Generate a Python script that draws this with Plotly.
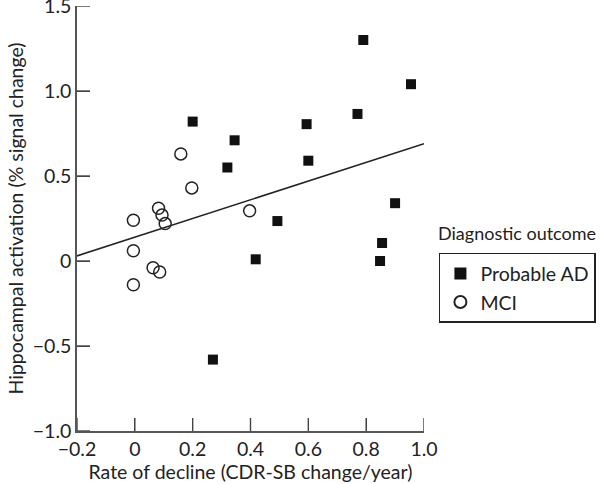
import plotly.graph_objects as go

# Probable AD (filled squares)
ad_x = [0.20, 0.345, 0.32, 0.493, 0.418, 0.27, 0.79, 0.955, 0.77, 0.594, 0.60, 0.90, 0.855, 0.848]
ad_y = [0.82, 0.71, 0.55, 0.235, 0.01, -0.58, 1.30, 1.04, 0.865, 0.805, 0.59, 0.34, 0.106, 0.00]

# MCI (open circles)
mci_x = [0.159, 0.197, 0.397, -0.005, 0.082, 0.094, 0.105, -0.005, 0.063, 0.086, -0.005]
mci_y = [0.63, 0.43, 0.295, 0.24, 0.31, 0.27, 0.22, 0.06, -0.04, -0.065, -0.14]

# Regression line end points
fit_x = [-0.2, 1.0]
fit_y = [0.03, 0.69]

x_ticks = [-0.2, 0, 0.2, 0.4, 0.6, 0.8, 1.0]
x_labels = ["\u22120.2", "0", "0.2", "0.4", "0.6", "0.8", "1.0"]
y_ticks = [-1.0, -0.5, 0, 0.5, 1.0, 1.5]
y_labels = ["\u22121.0", "\u22120.5", "0", "0.5", "1.0", "1.5"]

FONT = "Lato"
TXT = "#222222"
FS = 19.5
TICKLEN = 13
TICKCOL = "#444444"

fig = go.Figure()
fig.add_trace(go.Scatter(x=fit_x, y=fit_y, mode="lines",
                         line=dict(color="#222222", width=1.6),
                         showlegend=False, hoverinfo="skip"))
fig.add_trace(go.Scatter(x=ad_x, y=ad_y, mode="markers", name="Probable AD",
                         marker=dict(symbol="square", size=10, color="#111111",
                                     line=dict(width=0))))
fig.add_trace(go.Scatter(x=mci_x, y=mci_y, mode="markers", name="MCI",
                         marker=dict(symbol="circle-open", size=12, color="#222222",
                                     line=dict(width=1.5))))

axis_common = dict(showgrid=False, zeroline=False, showline=True,
                   linecolor="#555555", linewidth=1.5, automargin=False,
                   ticks="inside", ticklen=TICKLEN, tickwidth=1.4, tickcolor=TICKCOL,
                   tickfont=dict(family=FONT, size=FS, color=TXT))

fig.update_xaxes(range=[-0.2, 1.0], tickmode="array", tickvals=x_ticks, ticktext=x_labels,
                 title=dict(text="Rate of decline (CDR-SB change/year)",
                            font=dict(family=FONT, size=FS, color=TXT), standoff=2),
                 **axis_common)
fig.update_yaxes(range=[-1.0, 1.5], tickmode="array", tickvals=y_ticks, ticktext=y_labels,
                 ticklabeloverflow="allow",
                 title=dict(text="Hippocampal activation (% signal change)",
                            font=dict(family=FONT, size=FS, color=TXT), standoff=4),
                 **axis_common)

# inward tick marks drawn from the tick arrays (pixel-length, anchored on the axes)
for v in x_ticks:
    fig.add_shape(type="line", xref="x", yref="paper", ysizemode="pixel", yanchor=0,
                  x0=v, x1=v, y0=0, y1=TICKLEN, line=dict(color=TICKCOL, width=1.4))
for v in y_ticks:
    fig.add_shape(type="line", xref="paper", yref="y", xsizemode="pixel", xanchor=0,
                  x0=0, x1=TICKLEN, y0=v, y1=v, line=dict(color=TICKCOL, width=1.4))

fig.add_annotation(x=1.034, y=0.466, xref="paper", yref="paper",
                   text="Diagnostic outcome", showarrow=False,
                   xanchor="left", yanchor="middle",
                   font=dict(family=FONT, size=18, color=TXT))

fig.update_layout(
    template="none",
    width=601, height=484,
    margin=dict(l=77, r=176, t=6, b=53),
    plot_bgcolor="white", paper_bgcolor="white",
    font=dict(family=FONT, size=FS, color=TXT),
    legend=dict(x=1.04, y=0.419, xanchor="left", yanchor="top",
                bordercolor="#222222", borderwidth=1.5,
                font=dict(family=FONT, size=FS, color=TXT),
                itemsizing="constant", tracegroupgap=0),
)

fig.write_html("out.html", config={"displayModeBar": False},
               post_script="document.body.style.margin='0';document.body.style.overflow='hidden';")
